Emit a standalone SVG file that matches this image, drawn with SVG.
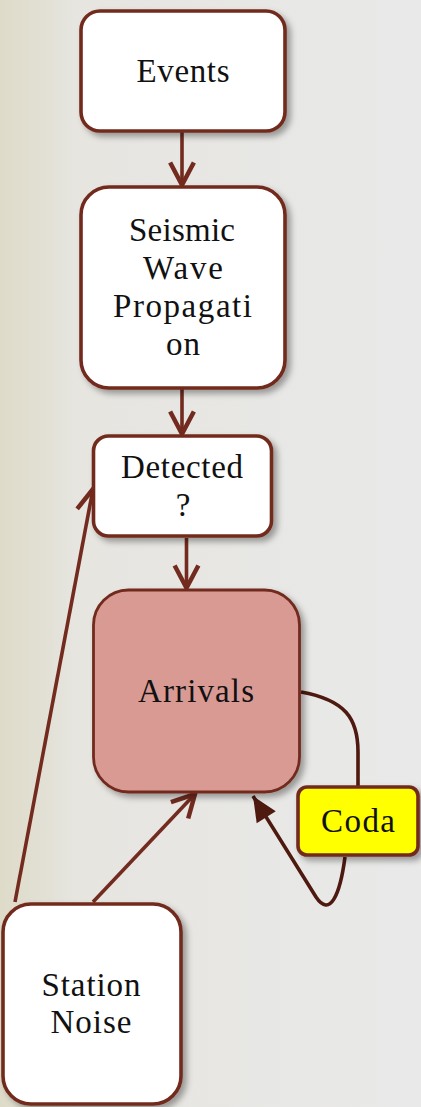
<svg xmlns="http://www.w3.org/2000/svg" width="421" height="1107" viewBox="0 0 421 1107">
<defs>
<linearGradient id="bg" x1="0" y1="0" x2="421" y2="0" gradientUnits="userSpaceOnUse">
<stop offset="0" stop-color="#dedbc9"/>
<stop offset="0.1" stop-color="#e2e0d4"/>
<stop offset="0.18" stop-color="#e6e5e0"/>
<stop offset="1" stop-color="#e9e9e9"/>
</linearGradient>
<filter id="sh" x="-20%" y="-20%" width="140%" height="140%">
<feDropShadow dx="4" dy="4" stdDeviation="3" flood-color="#000" flood-opacity="0.35"/>
</filter>
<marker id="open" markerUnits="userSpaceOnUse" markerWidth="30" markerHeight="30" viewBox="-20 -12 24 24" refX="0" refY="0" orient="auto">
<path d="M-18,-9.5 L0,0 L-18,9.5" fill="none" stroke="#722b1e" stroke-width="3.6" stroke-linejoin="miter"/>
</marker>
<marker id="filled" markerUnits="userSpaceOnUse" markerWidth="30" markerHeight="30" viewBox="-22 -12 24 24" refX="0" refY="0" orient="auto">
<path d="M-20,-9 L0,0 L-20,9 Z" fill="#4e1a10"/>
</marker>
<style>
.box{fill:#fff;stroke:#722b1e;stroke-width:3.6;filter:url(#sh)}
.lbl{font-family:"Liberation Serif","DejaVu Serif",serif;font-size:33px;fill:#111;text-anchor:middle}
.ln{fill:none;stroke:#722b1e;stroke-width:3.6}
.dk{fill:none;stroke:#4e1a10;stroke-width:3.6}
</style>
</defs>
<rect x="0" y="0" width="421" height="1107" fill="url(#bg)"/>
<g id="connectors">
<path class="ln" d="M182,132 L182,185" marker-end="url(#open)"/>
<path class="ln" d="M182,389 L182,434" marker-end="url(#open)"/>
<path class="ln" d="M186.5,538 L186.5,588" marker-end="url(#open)"/>
<path class="ln" d="M15,902 L93,489" marker-end="url(#open)"/>
<path class="ln" d="M93,902 L195,794" marker-end="url(#open)"/>
<path class="dk" d="M301,692 C345,700 358,718 358,752 L358,786"/>
<path class="dk" d="M345,857 C340,895 330,918 316,897 L253,796" marker-end="url(#filled)"/>
</g>
<g id="events">
<rect class="box" x="81" y="11" width="204" height="120" rx="19"/>
<text class="lbl" x="183" y="82" textLength="93" lengthAdjust="spacing">Events</text>
</g>
<g id="seismic">
<rect class="box" x="81" y="187" width="204" height="201" rx="28"/>
<text class="lbl" x="182" y="241" textLength="106" lengthAdjust="spacing">Seismic</text>
<text class="lbl" x="183" y="279" textLength="80" lengthAdjust="spacing">Wave</text>
<text class="lbl" x="182.5" y="317" textLength="139" lengthAdjust="spacing">Propagati</text>
<text class="lbl" x="183" y="355" textLength="34" lengthAdjust="spacing">on</text>
</g>
<g id="detected">
<rect class="box" x="93.5" y="436" width="178" height="100" rx="15"/>
<text class="lbl" x="182" y="478" textLength="122" lengthAdjust="spacing">Detected</text>
<text class="lbl" x="183" y="516">?</text>
</g>
<g id="arrivals">
<rect class="box" x="93.5" y="590" width="206" height="202" rx="35" style="fill:#d99a94;stroke-width:2.8"/>
<text class="lbl" x="196" y="702" textLength="116" lengthAdjust="spacing">Arrivals</text>
</g>
<g id="coda">
<rect class="box" x="298" y="787" width="120" height="68" rx="9" style="fill:#ffff00"/>
<text class="lbl" x="358" y="832" textLength="74" lengthAdjust="spacing">Coda</text>
</g>
<g id="station">
<rect class="box" x="3" y="904" width="178" height="200" rx="28"/>
<text class="lbl" x="91" y="996" textLength="99" lengthAdjust="spacing">Station</text>
<text class="lbl" x="91" y="1033" textLength="81" lengthAdjust="spacing">Noise</text>
</g>
</svg>
